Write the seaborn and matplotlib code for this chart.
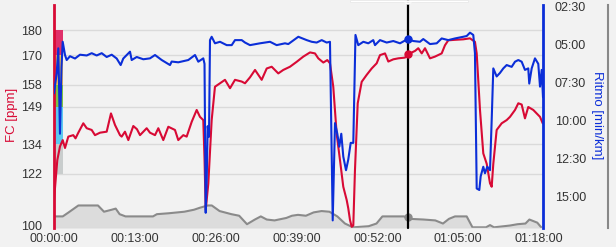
import matplotlib
matplotlib.use("Agg")
import matplotlib.pyplot as plt
import matplotlib.transforms as mtransforms
from matplotlib.patches import Rectangle, Polygon
import seaborn as sns
import numpy as np

# ---------------- data ----------------
hr_time = [0, 0.53, 0.96, 1.40, 1.77, 2.30, 3.10, 3.46, 3.91, 4.71, 5.26, 6.06, 6.59, 7.40, 8.47,
           9.16, 9.81, 10.61, 10.88, 11.41, 11.95, 12.75, 13.34, 13.83, 14.90, 15.43, 16.24, 16.77,
           17.57, 18.38, 19.45, 19.98, 20.79, 21.33, 22.14, 22.94, 23.47, 24.00, 24.20, 24.39, 24.81,
           25.35, 25.88, 26.69, 27.49, 28.30, 29.10, 30.18, 30.71, 31.51, 32.32, 33.39, 34.20, 35.00,
           36.06, 36.86, 37.94, 39.02, 40.08, 41.16, 41.96, 42.49, 43.30, 43.94, 44.37, 44.90, 45.45,
           45.98, 46.51, 47.06, 47.31, 47.59, 47.86, 48.12, 48.39, 48.83, 49.47, 50.27, 51.08, 51.88,
           52.41, 53.22, 53.75, 54.55, 55.35, 56.43, 56.96, 58.04, 58.57, 59.12, 59.65, 60.45, 61.25,
           62.33, 62.86, 63.39, 64.47, 65.80, 66.88, 67.68, 67.96, 68.49, 69.02, 69.57, 70.10, 70.37,
           70.63, 71.17, 71.98, 72.78, 73.31, 74.12, 74.65, 75.19, 75.72, 76.25, 77.06, 77.60, 78.14,
           78.57]
hr_values = [111.3, 127.5, 133, 135.6, 132.4, 137, 137.6, 136.3, 138.6, 142.4, 140.4, 139.7, 137.6,
             138.6, 139, 146.4, 141.7, 137.6, 137, 139, 135.6, 141.3, 140, 137.6, 140.4, 138.6, 137.6,
             140.4, 135.6, 141, 139.7, 135.6, 137.6, 137, 143, 147.8, 145, 143.7, 128, 107.3, 118,
             143.7, 157.2, 158.6, 160, 156.6, 160, 159.3, 158.6, 161, 164, 160, 164.6, 165.3, 162.6,
             164, 165.3, 167.3, 169.4, 171.1, 170.7, 168.7, 167, 168, 166.7, 157.2, 138, 127.5, 116.7,
             111.3, 108, 103.2, 100.5, 101, 123.5, 150.5, 159.2, 162, 164.6, 166.7, 170, 170.7, 167.4,
             168.3, 168.7, 169, 170.4, 171.7, 172.8, 170.7, 172.8, 168.7, 169.4, 170.7, 174, 176,
             176.2, 176.4, 176.8, 175.4, 170.7, 147.8, 130.2, 126, 118.1, 116.7, 126, 139.7, 142.4,
             143.7, 145, 147.8, 150.5, 150, 144.4, 149, 147.8, 146.4, 145, 142.4]

pace_time = [0, 0.43, 0.69, 0.80, 0.96, 1.21, 1.40, 1.77, 2.04, 2.57, 3.38, 4.18, 5.26, 6.06, 6.86,
             7.67, 8.47, 9.28, 10.08, 10.72, 11.14, 12.22, 12.49, 13.30, 14.36, 15.43, 16.24, 17.32,
             18.65, 18.92, 19.98, 21.59, 22.67, 23.20, 24.00, 24.20, 24.39, 24.55, 24.71, 24.92, 25.08,
             25.35, 25.88, 26.69, 27.77, 28.57, 29.10, 30.18, 30.71, 31.51, 33.12, 34.73, 35.80, 37.14,
             37.67, 39.28, 40.63, 41.43, 42.23, 43.04, 43.84, 44.37, 44.81, 45.18, 45.55, 45.87, 46.19,
             46.51, 46.95, 47.31, 47.70, 48.12, 48.47, 48.92, 49.73, 50.53, 51.33, 51.61, 52.41, 53.49,
             54.55, 55.63, 56.86, 57.77, 58.84, 59.37, 60.45, 61.53, 62.33, 63.39, 64.47, 65.80, 66.35,
             66.88, 67.41, 67.68, 67.96, 68.38, 68.60, 69.02, 69.29, 69.66, 70.10, 70.37, 70.63, 71.17,
             71.70, 72.24, 72.78, 73.58, 74.12, 74.65, 75.19, 75.72, 76.25, 76.41, 76.80, 77.33, 77.86,
             78.14, 78.41, 78.62]
pace_values = [8.24, 6.93, 5.28, 7.5, 10.9, 6.5, 4.85, 5.72, 6.05, 5.8, 5.95, 5.7, 5.75, 5.6, 5.75,
               5.6, 5.85, 5.7, 5.95, 6.38, 5.95, 5.5, 6.05, 5.85, 6.0, 5.94, 5.72, 6.05, 6.38, 6.15,
               6.2, 6.05, 5.72, 6.16, 5.94, 6.3, 16.1, 14.0, 10.4, 11.1, 4.74, 4.52, 4.95, 4.85, 5.07,
               5.07, 4.74, 4.74, 4.9, 5.07, 4.95, 4.85, 5.07, 4.95, 5.0, 4.52, 4.74, 4.85, 4.9, 4.74,
               4.9, 4.85, 16.6, 10.2, 10.9, 11.75, 10.9, 12.4, 13.3, 12.6, 11.5, 11.5, 4.4, 5.07, 4.85,
               4.95, 4.74, 5.07, 4.74, 4.9, 4.8, 4.95, 4.67, 4.8, 4.85, 4.67, 5.0, 4.95, 4.63, 4.74,
               4.63, 4.52, 4.47, 4.25, 4.4, 5.6, 14.5, 14.6, 13.7, 13.07, 13.5, 13.07, 13.3, 10.0, 6.6,
               7.13, 6.9, 6.6, 6.38, 6.5, 6.16, 6.05, 6.16, 6.7, 6.6, 7.6, 6.6, 5.94, 6.3, 7.8, 6.7,
               8.5]

alt_time = [0, 1.41, 2.35, 3.92, 7.07, 8.04, 9.29, 9.92, 10.55, 11.50, 15.92, 16.54, 18.42, 20.95,
            22.52, 23.47, 24.73, 25.37, 26.62, 28.52, 29.77, 31.03, 32.30, 33.25, 34.20, 35.45, 37.35,
            38.26, 39.23, 40.50, 41.75, 43.02, 44.28, 45.55, 46.78, 48.07, 50.58, 51.85, 52.80, 56.27,
            57.20, 59.41, 61.30, 62.54, 63.50, 64.47, 66.35, 67.28, 69.45, 70.10, 70.74, 73.28, 74.53,
            75.80, 76.43, 77.70, 78.33]
alt_values = [5.2, 5.2, 7.0, 10.1, 10.1, 7.3, 8.2, 8.7, 6.2, 5.2, 5.2, 6.2, 6.6, 7.3, 8.2, 9.1, 10.1,
              10.1, 7.6, 6.2, 5.5, 1.7, 3.8, 5.2, 3.8, 3.4, 4.5, 5.5, 5.9, 5.5, 7.0, 7.6, 7.3, 5.2,
              2.0, 0.3, 0.8, 2.0, 5.2, 5.2, 4.1, 3.8, 3.4, 2.0, 4.1, 5.2, 5.2, 0.3, 0.3, 1.3, 0.3, 1.1,
              1.7, 2.0, 3.8, 2.4, 0.3]

hr_ticks = [100, 122, 134, 149, 158, 170, 180]
zone_edges = [122, 134, 149, 158, 170, 180]
zone_colors = ["#c9cdcd", "#5cc9f0", "#7cc443", "#f4c24e", "#e0306a"]
pace_ticks = [2.5, 5, 7.5, 10, 12.5, 15]
pace_labels = ["02:30", "05:00", "07:30", "10:00", "12:30", "15:00"]
time_ticks = [0, 13, 26, 39, 52, 65, 78]
time_labels = ["00:00:00", "00:13:00", "00:26:00", "00:39:00", "00:52:00", "01:05:00", "01:18:00"]
cursor_time = 56.96
cursor_hr = 170.4
cursor_pace = 4.67
cursor_alt = 5.1

# ---------------- style ----------------
sns.set_theme(style="white")
plt.rcParams["font.family"] = ["Liberation Sans", "DejaVu Sans"]
BG = "#f2f2f2"
RED = "#d80a35"
BLUE = "#0b2ed8"
GREY = "#8a8a8a"
TXT = "#333333"

W, H = 616, 247
fig = plt.figure(figsize=(W / 100, H / 100), dpi=100, facecolor=BG)
L, R, B, T = 54, 543, 228, 5
rect = [L / W, (H - B) / H, (R - L) / W, (B - T) / H]

ax3 = fig.add_axes(rect)  # altitude (bottom layer)
ax = fig.add_axes(rect)   # heart rate
ax2 = ax.twinx()          # pace

ax3.set_zorder(0)
ax.set_zorder(1)
ax2.set_zorder(2)
ax3.set_facecolor(BG)
ax.patch.set_visible(False)
ax2.patch.set_visible(False)

xlim = (0, 78.62)

# altitude
ax3.fill_between(alt_time, alt_values, 0, color="#dcdcdc", lw=0)
sns.lineplot(x=alt_time, y=alt_values, ax=ax3, color=GREY, linewidth=1.5, estimator=None)
ax3.set_xlim(*xlim)
ax3.set_ylim(0, 100)
ax3.set_xticks([])
ax3.set_yticks([])
for s in ["left", "top", "bottom"]:
    ax3.spines[s].set_visible(False)
ax3.spines["right"].set_position(("axes", (608 - L) / (R - L)))
ax3.spines["right"].set_color("#888888")
ax3.spines["right"].set_linewidth(1.5)
ax3.plot([cursor_time], [cursor_alt], "o", color=GREY, ms=5, zorder=5)

# heart rate
for lo, hi, c in zip(zone_edges[:-1], zone_edges[1:], zone_colors):
    ax.add_patch(Rectangle((0, lo), 1.45, hi - lo, color=c, lw=0, zorder=1))
sns.lineplot(x=hr_time, y=hr_values, ax=ax, color=RED, linewidth=1.5, estimator=None, zorder=3)
ax.set_xlim(*xlim)
ax.set_ylim(100, 190.3)
ax.set_yticks(hr_ticks)
ax.set_yticklabels([str(v) for v in hr_ticks])
ax.set_xticks(time_ticks)
ax.set_xticklabels(time_labels)
ax.grid(axis="y", color="#dadada", lw=1)
ax.set_axisbelow(True)
ax.tick_params(axis="y", length=0, pad=8.5, labelsize=9, labelcolor=TXT)
ax.tick_params(axis="x", length=0, pad=3.6, labelsize=9, labelcolor=TXT)
for s in ["top", "right", "bottom"]:
    ax.spines[s].set_visible(False)
ax.spines["left"].set_color(RED)
ax.spines["left"].set_linewidth(2)
ax.set_xlabel("")
ax.set_ylabel("")
ax.axvline(cursor_time, ymin=0, ymax=1 + T / (B - T), color="black", lw=1.6, clip_on=False, zorder=4)
ax.plot([cursor_time], [cursor_hr], "o", color=RED, ms=5, zorder=6)
# lift the lowest FC label a little so it sits just above the time labels
fig.canvas.draw()
lab0 = ax.get_yticklabels()[0]
lab0.set_transform(lab0.get_transform() + mtransforms.ScaledTranslation(0, 2.5 / 100, fig.dpi_scale_trans))

# pace
sns.lineplot(x=pace_time, y=pace_values, ax=ax2, color=BLUE, linewidth=1.5, estimator=None)
ax2.set_xlim(*xlim)
ax2.set_ylim(17.1, 2.43)
ax2.set_yticks(pace_ticks)
ax2.set_yticklabels(pace_labels)
ax2.tick_params(axis="y", length=0, pad=8.5, labelsize=9, labelcolor=TXT)
for s in ["top", "left", "bottom"]:
    ax2.spines[s].set_visible(False)
ax2.spines["right"].set_color(BLUE)
ax2.spines["right"].set_linewidth(2)
ax2.set_ylabel("")
ax2.plot([cursor_time], [cursor_pace], "o", color=BLUE, ms=5, zorder=6)

# axis titles
fig.text(12 / W, 1 - 115 / H, "FC [ppm]", rotation=90, color=RED, fontsize=9.5,
         ha="center", va="center")
fig.text(597 / W, 1 - 115 / H, "Ritmo [min/km]", rotation=270, color=BLUE, fontsize=9.5,
         ha="center", va="center")

# tooltip edge at the top
fig.patches.append(Rectangle((350 / W, 1 - 2.5 / H), 118 / W, 2.5 / H, transform=fig.transFigure,
                             facecolor="white", edgecolor="#e6e6e6", lw=0.5, figure=fig))
fig.patches.append(Polygon([[404 / W, 1 - 2.5 / H], [412 / W, 1 - 2.5 / H], [408 / W, 1 - 5 / H]],
                           closed=True, transform=fig.transFigure, facecolor="white",
                           edgecolor="none", figure=fig))

fig.savefig("out.png", dpi=100, facecolor=BG)
